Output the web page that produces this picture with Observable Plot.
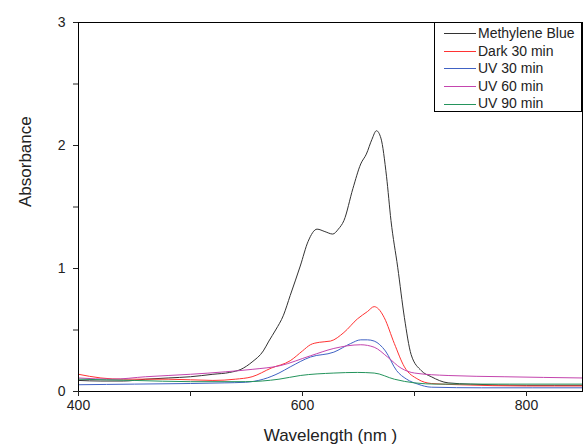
<!DOCTYPE html>
<html><head><meta charset="utf-8">
<script src="https://cdn.jsdelivr.net/npm/d3@7"></script>
<script src="https://cdn.jsdelivr.net/npm/@observablehq/plot@0.6"></script>
<style>
body{margin:0;background:#fff;font-family:"Liberation Sans",Arial,sans-serif;}
#wrap{position:relative;width:584px;height:445px;}
#legend{position:absolute;left:434px;top:22px;width:148px;height:90px;border:1px solid #000;border-left-width:1.5px;border-bottom-width:1.5px;background:#fff;box-sizing:border-box;padding-top:2px;}
.row{display:flex;align-items:center;height:17.6px;line-height:17.6px;font-size:14px;color:#222;}
.sw{width:32px;height:0;margin-left:9px;margin-right:2px;border-top:1.2px solid;}
</style></head>
<body><div id="wrap"></div>
<script>
const seriesNames = ["Methylene Blue","Dark 30 min","UV 30 min","UV 60 min","UV 90 min"];
const seriesColors = ["#333333","#ff3333","#4062c4","#c445ae","#24945c"];

const mbWl  = [400,420,440,460,480,500,520,535,545,555,565,570,576,583,589,598,605,613,620,627,632,637,645,652,657,662,666,670,675,679,685,691,697,706,715,730,750,800,850];
const mbAbs = [0.09,0.085,0.085,0.1,0.11,0.12,0.14,0.155,0.18,0.24,0.33,0.41,0.5,0.62,0.78,1.02,1.22,1.32,1.30,1.28,1.32,1.39,1.65,1.85,1.93,2.05,2.12,2.06,1.75,1.39,1.01,0.6,0.3,0.17,0.12,0.07,0.06,0.05,0.05];

const darkWl  = [400,420,440,480,520,540,555,572,589,600,607,615,625,637,649,658,664,668,673,682,691,703,715,740,800,850];
const darkAbs = [0.14,0.11,0.1,0.1,0.09,0.1,0.12,0.19,0.25,0.33,0.38,0.4,0.41,0.48,0.59,0.65,0.69,0.67,0.6,0.39,0.2,0.1,0.065,0.055,0.045,0.045];

const uv30Wl  = [400,450,500,530,549,565,579,589,607,628,643,652,658,664,674,684,693,703,715,760,850];
const uv30Abs = [0.055,0.06,0.065,0.07,0.075,0.1,0.15,0.2,0.28,0.32,0.39,0.42,0.42,0.41,0.33,0.17,0.1,0.06,0.035,0.03,0.03];

const uv60Wl  = [400,430,460,500,531,555,580,607,628,652,664,676,688,700,730,780,850];
const uv60Abs = [0.11,0.1,0.12,0.14,0.16,0.18,0.21,0.29,0.35,0.38,0.36,0.28,0.19,0.15,0.13,0.12,0.11];

const uv90Wl  = [400,450,500,549,579,598,628,649,664,682,700,720,850];
const uv90Abs = [0.1,0.09,0.08,0.08,0.1,0.13,0.15,0.155,0.15,0.1,0.07,0.06,0.06];

const xTicks = [400,500,600,700,800];
const xTickLabels = [400,600,800];
const yTicks = [0,0.5,1,1.5,2,2.5,3];
const yTickLabels = [0,1,2,3];

const wls = [mbWl,darkWl,uv30Wl,uv60Wl,uv90Wl];
const abss = [mbAbs,darkAbs,uv30Abs,uv60Abs,uv90Abs];
const data = [];
seriesNames.forEach((s,i)=>wls[i].forEach((w,j)=>data.push({series:s,wl:w,abs:abss[i][j]})));

const chart = Plot.plot({
  width:584, height:445,
  marginLeft:78, marginRight:2, marginTop:22, marginBottom:54,
  style:{fontFamily:"'Liberation Sans',Arial,sans-serif",fontSize:"14px",color:"#222",background:"#fff"},
  x:{domain:[400,850]},
  y:{domain:[0,3]},
  color:{domain:seriesNames,range:seriesColors},
  marks:[
    Plot.lineY(data,{x:"wl",y:"abs",z:"series",stroke:"series",strokeWidth:1,curve:"monotone-x"}),
    Plot.frame({stroke:"#000",strokeWidth:1}),
    Plot.axisX({ticks:xTicks,tickFormat:d=>xTickLabels.includes(d)?String(d):"",tickSize:5,tickPadding:4,label:null,fontSize:14}),
    Plot.axisY({ticks:yTicks,tickFormat:d=>yTickLabels.includes(d)?String(d):"",tickSize:5,tickPadding:8,label:null,fontSize:14}),
    Plot.text(["Wavelength (nm )"],{frameAnchor:"bottom",dy:49,fontSize:17,fill:"#222"}),
    Plot.text(["Absorbance"],{frameAnchor:"left",dx:-53,rotate:-90,fontSize:17,fill:"#222"})
  ]
});
const wrap = document.getElementById("wrap");
wrap.appendChild(chart);
const leg = document.createElement("div");
leg.id="legend";
seriesNames.forEach((s,i)=>{
  const r=document.createElement("div");r.className="row";
  const sw=document.createElement("span");sw.className="sw";sw.style.borderColor=seriesColors[i];
  const t=document.createElement("span");t.textContent=s;
  r.appendChild(sw);r.appendChild(t);leg.appendChild(r);
});
wrap.appendChild(leg);
</script></body></html>
